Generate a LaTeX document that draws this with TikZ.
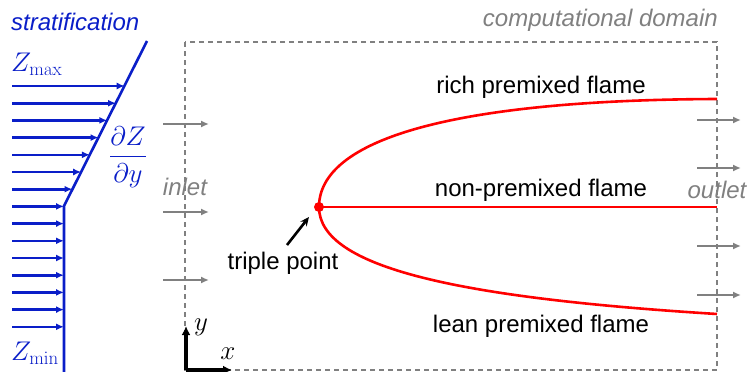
\documentclass[tikz,border=0pt]{standalone}
\usepackage{fix-cm}
\usepackage[no-math]{fontspec}
\newfontfamily\arialfont{Liberation Sans}
\usepackage{amsmath}
\usetikzlibrary{arrows.meta,positioning}
\definecolor{stratblue}{RGB}{10,30,200}
\definecolor{domgray}{RGB}{128,128,128}

\begin{document}
\begin{tikzpicture}[x=1pt,y=-1pt,
  lbl/.style={inner sep=0pt,font=\arialfont\fontsize{24}{26}\selectfont},
  ilbl/.style={inner sep=0pt,font=\arialfont\itshape\fontsize{24}{26}\selectfont},
  mth/.style={inner sep=0pt,font=\fontsize{27}{29}\selectfont},
  flow/.style={domgray,line width=2.6pt,-{Latex[length=8pt,width=7pt]}},
  strat/.style={stratblue,line width=2.6pt,-{Latex[length=8pt,width=7pt]}},
  flame/.style={red,line width=2.6pt}]
\useasboundingbox (0,0) rectangle (748,372);
% computational domain
\draw[domgray,line width=2.6pt,dash pattern=on 5pt off 4pt] (185,42) rectangle (717,370);
\node[ilbl,domgray,anchor=east] (dom) at (718,20) {computational domain};
% stratification profile
\coordinate (gtop) at (147,41);
\coordinate (kink) at (64,206);
\coordinate (gbot) at (64,372);
\draw[stratblue,line width=2.6pt] (gtop) -- (kink) -- (gbot);
\foreach \i in {0,...,14}{
  \pgfmathsetmacro{\yy}{86+17.2*\i}
  \pgfmathsetmacro{\xx}{\yy<206 ? 64+(206-\yy)*83/164 : 64}
  \coordinate (s\i) at (12,\yy);
  \coordinate (e\i) at (\xx,\yy);
  \draw[strat] (s\i) -- (e\i);
}
\node[ilbl,stratblue,anchor=west] (strt) at (11,22) {stratification};
\node[mth,stratblue,anchor=west] (zmax) at (11,64) {$Z_{\max}$};
\node[mth,stratblue,anchor=west] (zmin) at (11,353) {$Z_{\min}$};
\node[mth,stratblue] (grad) at (128,157) {$\dfrac{\partial Z}{\partial y}$};
% inlet and outlet
\foreach \y [count=\k] in {124,212,280}{
  \coordinate (ia\k) at (163,\y);
  \coordinate (ib\k) at (209,\y);
  \draw[flow] (ia\k) -- (ib\k);
}
\foreach \y [count=\k] in {120,168,246,295}{
  \coordinate (oa\k) at (697,\y);
  \coordinate (ob\k) at (741,\y);
  \draw[flow] (oa\k) -- (ob\k);
}
\node[ilbl,domgray] (inlet) at (185,187) {inlet};
\node[ilbl,domgray] (outlet) at (717,190) {outlet};
% flames
\coordinate (tp) at (319,207);
\coordinate (rich) at (717,99);
\coordinate (diff) at (717,207);
\coordinate (lean) at (717,314);
\draw[flame] (tp) .. controls (319,140) and (450,100) .. (rich);
\draw[flame] (tp) .. controls (319,268) and (460,298) .. (lean);
\draw[flame] (tp) -- (diff);
\fill[red] (tp) circle (5pt);
\node[lbl] (richl) at (541,87) {rich premixed flame};
\node[lbl] (diffl) at (541,190) {non-premixed flame};
\node[lbl] (leanl) at (541,326) {lean premixed flame};
\node[lbl] (tpl) at (283,263) {triple point};
\coordinate (tpa) at (287,245);
\coordinate (tpb) at (309,217);
\draw[line width=2.6pt,-{Stealth[length=9pt,width=8pt]}] (tpa) -- (tpb);
% axes
\coordinate (orig) at (186,370);
\coordinate (yend) at (186,326);
\coordinate (xend) at (232,370);
\draw[line width=3.2pt,-{Latex[length=9pt,width=9pt]}] (orig) -- (yend);
\draw[line width=3.2pt,-{Latex[length=9pt,width=9pt]}] (orig) -- (xend);
\node[mth] (yl) at (201,327) {$y$};
\node[mth] (xl) at (228,354) {$x$};
\end{tikzpicture}
\end{document}
